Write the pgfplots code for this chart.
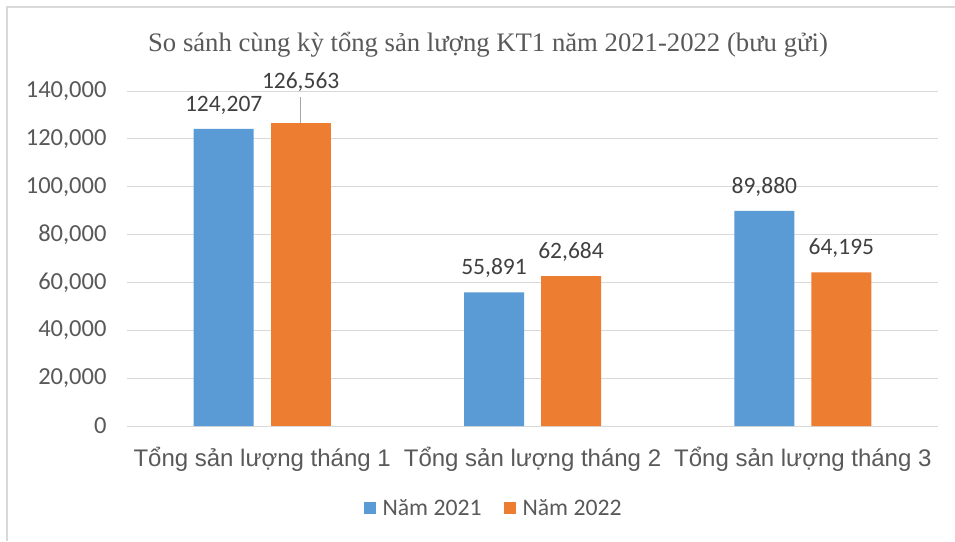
\documentclass[border=0pt]{standalone}
\usepackage{fontspec}
\setmainfont{Carlito}
\newfontfamily\arialf{Liberation Sans}
\newfontfamily\timesf{Liberation Serif}
\usepackage{pgfplots}
\pgfplotsset{compat=1.18}
\usepackage{pgfplotstable}
\definecolor{cblue}{HTML}{5B9BD5}
\definecolor{corange}{HTML}{ED7D31}
\definecolor{cgrid}{HTML}{D9D9D9}
\definecolor{ctext}{HTML}{595959}
\definecolor{clabel}{HTML}{404040}

\pgfplotstableread{
x y
0 124207
1 55891
2 89880
}\tblA
\pgfplotstableread{
x y
1 62684
2 64195
}\tblB
\pgfplotstableread{
x y
0 126563
}\tblBfirst

\begin{document}
\begin{tikzpicture}
\useasboundingbox (0pt,0pt) rectangle (955pt,-541pt);
\fill[white] (0pt,0pt) rectangle (955pt,-541pt);
\draw[cgrid, line width=2pt] (7pt,-541pt) -- (7pt,-7pt) -- (955pt,-7pt);
\node[text=ctext, font=\timesf\fontsize{26.7}{31}\selectfont] at (488pt,-45pt) {So sánh cùng kỳ tổng sản lượng KT1 năm 2021-2022 (bưu gửi)};
\begin{axis}[
  at={(127pt,-426pt)}, anchor=south west,
  scale only axis,
  width=811pt, height=335pt,
  xmin=-0.5, xmax=2.5,
  ymin=0, ymax=140000,
  ytick={0,20000,...,140000},
  xtick={0,1,2},
  xticklabels={Tổng sản lượng tháng 1, Tổng sản lượng tháng 2, Tổng sản lượng tháng 3},
  ybar, bar width=60pt,
  axis line style={draw=none},
  axis x line*=bottom,
  x axis line style={draw=cgrid, line width=1pt},
  ymajorgrids, grid style={cgrid, line width=1pt},
  major tick length=0pt,
  tick style={draw=none},
  scaled y ticks=false,
  yticklabel={\pgfmathprintnumber[assume math mode=true, fixed, precision=0, 1000 sep={,}]{\tick}},
  yticklabel style={text=ctext, font=\fontsize{24.5}{28}\selectfont, xshift=-17pt},
  xticklabel style={text=ctext, font=\arialf\fontsize{24}{28}\selectfont, yshift=-18pt},
  nodes near coords={\pgfmathprintnumber[assume math mode=true, fixed, precision=0, 1000 sep={,}]{\pgfplotspointmeta}},
  nodes near coords style={text=clabel, font=\fontsize{23.5}{27}\selectfont, anchor=south, yshift=11pt},
  legend columns=2,
  legend style={at={(0.4520,-0.2448)}, anchor=center, draw=none, fill=none,
    font=\fontsize{23.7}{27}\selectfont, text=ctext,
    /tikz/every odd column/.append style={column sep=5pt},
    /tikz/every even column/.append style={column sep=20pt}},
  legend image code/.code={\fill[#1] (0pt,-6pt) rectangle (12pt,6pt);},
]
\addplot[fill=cblue, draw=none, bar shift=-38.5pt] table[x=x, y=y] {\tblA};
\addplot[fill=corange, draw=none, bar shift=38.5pt] table[x=x, y=y] {\tblB};
\addplot[fill=corange, draw=none, bar shift=38.5pt, forget plot,
  nodes near coords style={yshift=17pt}] table[x=x, y=y] {\tblBfirst};
\legend{Năm 2021, Năm 2022}
\draw[gray!70, line width=1pt] ([xshift=38.5pt]axis cs:0,126563) -- ++(0pt,26pt);
\end{axis}
\end{tikzpicture}
\end{document}
